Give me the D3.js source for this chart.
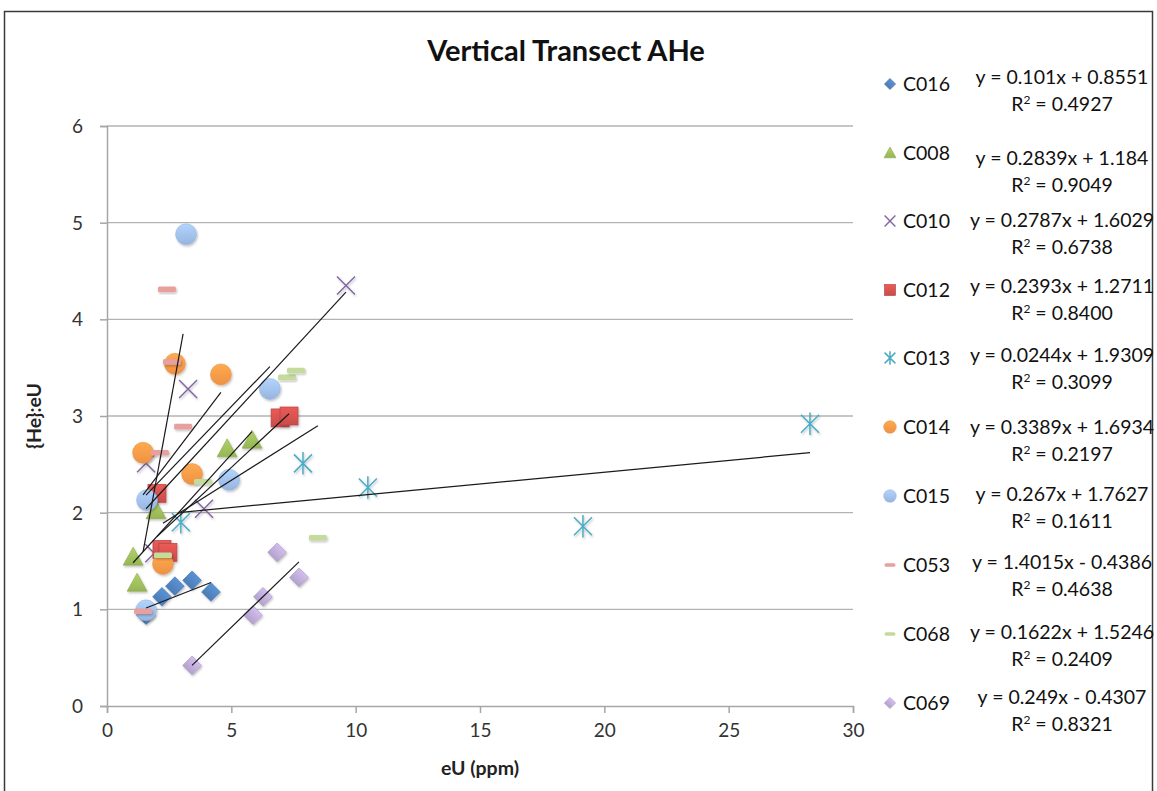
<!DOCTYPE html>
<html>
<head>
<meta charset="utf-8">
<script src="https://cdnjs.cloudflare.com/ajax/libs/d3/7.8.5/d3.min.js"></script>
<style>
  body { margin: 0; background: #fff; }
  svg { display: block; font-family: Lato, "Open Sans", sans-serif; }
</style>
</head>
<body>
<svg id="chart" width="1157" height="791"></svg>
<script>
// series names in legend order
const seriesNames = ["C016", "C008", "C010", "C012", "C013", "C014", "C015", "C053", "C068", "C069"];

// [eU, {He}:eU] points
const c016 = [[1.57, 0.94], [2.21, 1.13], [2.73, 1.24], [3.42, 1.30], [4.18, 1.18]];
const c008 = [[1.05, 1.54], [1.21, 1.27], [1.97, 2.02], [4.83, 2.66], [5.83, 2.75]];
const c010 = [[1.57, 2.51], [1.90, 1.58], [3.26, 3.28], [3.90, 2.04], [9.61, 4.35]];
const c012 = [[2.01, 2.20], [2.21, 1.62], [2.45, 1.59], [6.96, 2.98], [7.32, 3.00]];
const c013 = [[2.97, 1.90], [7.88, 2.51], [10.49, 2.26], [19.14, 1.86], [28.27, 2.92]];
const c014 = [[1.45, 2.62], [2.73, 3.54], [4.58, 3.43], [3.42, 2.40], [2.25, 1.47]];
const c015 = [[3.18, 4.88], [1.61, 2.13], [4.91, 2.34], [6.55, 3.28], [1.57, 0.99]];
const c053 = [[1.45, 0.98], [2.13, 2.62], [2.41, 4.31], [2.61, 3.56], [3.06, 2.89]];
const c068 = [[2.25, 1.56], [3.86, 2.32], [7.24, 3.40], [7.60, 3.47], [8.48, 1.74]];
const c069 = [[3.42, 0.42], [5.87, 0.94], [6.27, 1.13], [6.84, 1.59], [7.72, 1.33]];
const seriesData = [c016, c008, c010, c012, c013, c014, c015, c053, c068, c069];

// linear trendline labels
const slopes = [0.101, 0.2839, 0.2787, 0.2393, 0.0244, 0.3389, 0.267, 1.4015, 0.1622, 0.249];
const intercepts = [0.8551, 1.184, 1.6029, 1.2711, 1.9309, 1.6934, 1.7627, -0.4386, 1.5246, -0.4307];
const equations = ["y = 0.101x + 0.8551", "y = 0.2839x + 1.184", "y = 0.2787x + 1.6029",
  "y = 0.2393x + 1.2711", "y = 0.0244x + 1.9309", "y = 0.3389x + 1.6934", "y = 0.267x + 1.7627",
  "y = 1.4015x - 0.4386", "y = 0.1622x + 1.5246", "y = 0.249x - 0.4307"];
const r2Values = ["0.4927", "0.9049", "0.6738", "0.8400", "0.3099", "0.2197", "0.1611", "0.4638", "0.2409", "0.8321"];

const xTicks = [0, 5, 10, 15, 20, 25, 30];
const yTicks = [0, 1, 2, 3, 4, 5, 6];

const markerTypes = ["diamond", "triangle", "x", "square", "star", "circle", "circle", "dash", "dash", "diamond"];
const colors = ["#4f81bd", "#9bbb59", "#8064a2", "#d0504d", "#4bacc6", "#f79646", "#9dbbe6", "#e8a09e", "#c5da9d", "#b9a8d3"];

const svg = d3.select("#chart");

// drop shadow like the office markers
const defs = svg.append("defs");
const f = defs.append("filter").attr("id", "shadow").attr("x", "-50%").attr("y", "-50%").attr("width", "200%").attr("height", "200%");
f.append("feDropShadow").attr("dx", 1).attr("dy", 1.5).attr("stdDeviation", 1.2).attr("flood-color", "#000").attr("flood-opacity", 0.25);

colors.forEach((c, i) => {
  const g = defs.append("linearGradient").attr("id", "grad" + i).attr("x1", 0).attr("y1", 0).attr("x2", 0).attr("y2", 1);
  g.append("stop").attr("offset", "0%").attr("stop-color", d3.color(c).brighter(0.35));
  g.append("stop").attr("offset", "100%").attr("stop-color", d3.color(c).darker(0.1));
});

// outer frame
svg.append("rect").attr("x", 4.5).attr("y", 11.5).attr("width", 1148).attr("height", 800)
  .attr("fill", "#fff").attr("stroke", "#3a3a3a").attr("stroke-width", 1.5);

const x = d3.scaleLinear().domain([0, 30]).range([107, 853]);
const y = d3.scaleLinear().domain([0, 6]).range([706, 126]);

// gridlines
svg.append("g").selectAll("line").data(yTicks.filter(d => d > 0)).join("line")
  .attr("x1", x(0)).attr("x2", x(30)).attr("y1", d => y(d)).attr("y2", d => y(d))
  .attr("stroke", "#b3b3b3").attr("stroke-width", 1.3);

// axes
const xAxis = svg.append("g").attr("transform", `translate(0,${y(0)})`)
  .call(d3.axisBottom(x).tickValues(xTicks).tickFormat(d3.format("d")).tickSize(7).tickPadding(11));
const yAxis = svg.append("g").attr("transform", `translate(${x(0)},0)`)
  .call(d3.axisLeft(y).tickValues(yTicks).tickFormat(d3.format("d")).tickSize(7).tickPadding(17));
[xAxis, yAxis].forEach(a => {
  a.select(".domain").attr("stroke", "#a6a6a6").attr("stroke-width", 1.5);
  a.selectAll(".tick line").attr("stroke", "#a6a6a6").attr("stroke-width", 1.5);
  a.selectAll(".tick text").attr("font-size", 19).attr("fill", "#333").attr("font-family", "Lato, sans-serif");
});
yAxis.selectAll(".tick text").attr("dy", "0.35em");

// titles
svg.append("text").attr("x", 566).attr("y", 61).attr("text-anchor", "middle")
  .attr("font-size", 29).attr("font-weight", "bold").attr("fill", "#111").text("Vertical Transect AHe");
svg.append("text").attr("x", 480).attr("y", 775).attr("text-anchor", "middle")
  .attr("font-size", 19.5).attr("font-weight", "bold").attr("fill", "#222").text("eU (ppm)");
svg.append("text").attr("transform", "translate(41,416) rotate(-90)").attr("text-anchor", "middle")
  .attr("font-size", 19.5).attr("font-weight", "bold").attr("fill", "#222").text("{He}:eU");

function drawMarker(g, type, i, scale) {
  const c = colors[i];
  const s = scale;
  const fill = `url(#grad${i})`;
  if (type === "diamond") {
    g.append("path").attr("d", d3.symbol(d3.symbolSquare, 175 * s * s)()).attr("transform", "rotate(45)")
      .attr("fill", fill).attr("stroke", d3.color(c).darker(0.3)).attr("stroke-width", 0.6);
  } else if (type === "square") {
    g.append("rect").attr("x", -9 * s).attr("y", -9 * s).attr("width", 18 * s).attr("height", 18 * s)
      .attr("fill", fill).attr("stroke", d3.color(c).darker(0.4)).attr("stroke-width", 0.7);
  } else if (type === "circle") {
    g.append("circle").attr("r", 10.5 * s).attr("fill", fill).attr("stroke", d3.color(c).darker(0.2)).attr("stroke-width", 0.5);
  } else if (type === "triangle") {
    g.append("path").attr("d", `M0,${-10 * s}L${10 * s},${8 * s}L${-10 * s},${8 * s}Z`)
      .attr("fill", fill).attr("stroke", d3.color(c).darker(0.3)).attr("stroke-width", 0.6);
  } else if (type === "x") {
    const r = 9 * s;
    g.append("path").attr("d", `M${-r},${-r}L${r},${r}M${-r},${r}L${r},${-r}`)
      .attr("stroke", c).attr("stroke-width", 1.4).attr("fill", "none");
  } else if (type === "star") {
    const r = 9 * s;
    g.append("path").attr("d", `M${-r},${-r}L${r},${r}M${-r},${r}L${r},${-r}M0,${-r * 1.25}L0,${r * 1.25}`)
      .attr("stroke", c).attr("stroke-width", 1.5).attr("fill", "none");
  } else if (type === "dash") {
    g.append("rect").attr("x", -9 * s).attr("y", -2.8 * s).attr("width", 18 * s).attr("height", 5.6 * s)
      .attr("rx", 1.5).attr("fill", c);
  }
}

// markers
const markLayer = svg.append("g");
seriesData.forEach((pts, i) => {
  pts.forEach(p => {
    const g = markLayer.append("g").attr("transform", `translate(${x(p[0])},${y(p[1])})`)
      .attr("filter", "url(#shadow)");
    drawMarker(g, markerTypes[i], i, 1);
  });
});

// trendlines over the markers
const trend = svg.append("g");
seriesData.forEach((pts, i) => {
  const [x0, x1] = d3.extent(pts, p => p[0]);
  trend.append("line")
    .attr("x1", x(x0)).attr("y1", y(slopes[i] * x0 + intercepts[i]))
    .attr("x2", x(x1)).attr("y2", y(slopes[i] * x1 + intercepts[i]))
    .attr("stroke", "#1a1a1a").attr("stroke-width", 1.2);
});

// legend with equations
const legendY = [84, 153, 221, 290, 358, 427, 496, 565, 634, 703];
const eqY = [78, 159, 221, 287, 356, 428, 495, 563, 633, 698];
const legend = svg.append("g");
seriesNames.forEach((name, i) => {
  const g = legend.append("g").attr("transform", `translate(890,${legendY[i]})`);
  drawMarker(g, markerTypes[i], i, 0.6);
  g.append("text").attr("x", 13).attr("y", 7).attr("font-size", 19.5).attr("fill", "#111").text(name);
  legend.append("text").attr("x", 1062).attr("y", eqY[i] + 6).attr("text-anchor", "middle")
    .attr("font-size", 19.5).attr("fill", "#111").text(equations[i]);
  const r = legend.append("text").attr("x", 1062).attr("y", eqY[i] + 33).attr("text-anchor", "middle")
    .attr("font-size", 19.5).attr("fill", "#111");
  r.append("tspan").text("R");
  r.append("tspan").attr("font-size", 12).attr("dy", -7).text("2");
  r.append("tspan").attr("dy", 7).text(" = " + r2Values[i]);
});
</script>
</body>
</html>
